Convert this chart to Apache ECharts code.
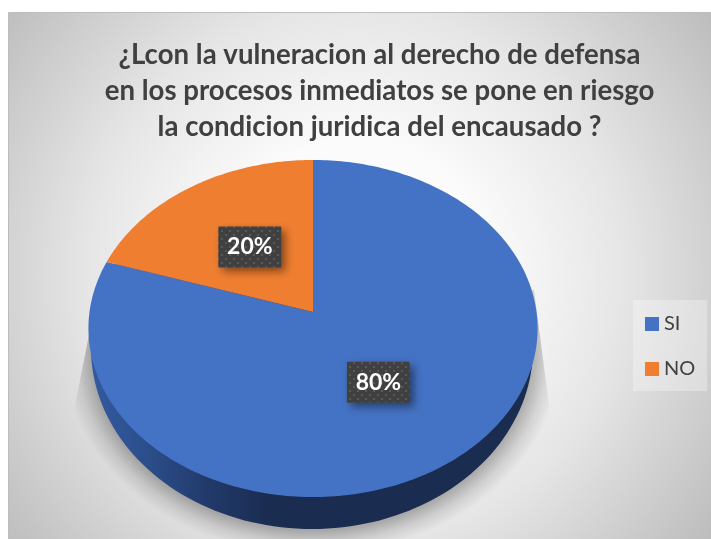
<!DOCTYPE html>
<html>
<head>
<meta charset="utf-8">
<style>
  html, body { margin: 0; padding: 0; background: #fff; }
  #chart { width: 711px; height: 539px; }
</style>
<script src="https://cdn.jsdelivr.net/npm/echarts@6/dist/echarts.min.js"></script>
</head>
<body>
<div id="chart"></div>
<script>
const titleLines = [
    '¿Lcon la vulneracion al derecho de defensa',
    'en los procesos inmediatos se pone en riesgo',
    'la condicion juridica del encausado ?'
]
const categories = ['SI', 'NO']
const values = [80, 20]
const colors = ['#4472c4', '#ef7e30']

const FONT = 'Lato'
const total = values.reduce((a, b) => a + b, 0)

// vista en perspectiva del disco: el centro queda mas arriba que el centro de la elipse
const pie = { cx: 313, cy: 312, b: 223.5, a: 166.9, k: 0.098 }
const project = (deg, rho) => {
    const t = deg * Math.PI / 180
    const u = Math.sin(t) * rho
    const v = -Math.cos(t) * rho
    const d = 1 - pie.k * v
    return [pie.cx + pie.b * u / d, pie.cy + pie.a * v / d]
}

const ellipsePoints = (cx, cy, rx, ry) => {
    let pts = []
    for (let i = 0; i < 360; i += 2) {
        let t = i * Math.PI / 180
        pts.push([cx + rx * Math.cos(t), cy + ry * Math.sin(t)])
    }
    return pts
}

// textura de puntos de las etiquetas
const dotPattern = () => {
    let c = document.createElement('canvas')
    c.width = 8
    c.height = 8
    let ctx = c.getContext('2d')
    ctx.fillStyle = '#404040'
    ctx.fillRect(0, 0, 8, 8)
    ctx.fillStyle = '#585858'
    ctx.fillRect(1, 2, 2, 2)
    ctx.fillRect(5, 6, 2, 2)
    return c
}
const pattern = dotPattern()

const makeSlice = (index) => (params, api) => {
    const before = values.slice(0, index).reduce((a, b) => a + b, 0)
    const start = before / total * 360
    const end = start + api.value(0) / total * 360
    let pts = [[pie.cx, pie.cy]]
    for (let d = start; d <= end; d += 1) pts.push(project(d, 1))
    const mid = project((start + end) / 2, 0.5)
    mid[0] -= index === 0 ? 3 : 0
    const children = []

    if (index === 0) {
        // sombra bajo el disco
        const sh = { cx: 312, cy: 350, r: 250, sy: 205 / 250 }
        const toLocal = p => [p[0] - sh.cx, (p[1] - sh.cy) / sh.sy]
        children.push({
            type: 'circle',
            x: sh.cx, y: sh.cy, scaleY: sh.sy,
            shape: { cx: 0, cy: 0, r: sh.r },
            style: {
                fill: {
                    type: 'radial', x: 0.5, y: 0.5, r: 0.5,
                    colorStops: [
                        { offset: 0, color: 'rgba(0,0,0,0.32)' },
                        { offset: 0.88, color: 'rgba(0,0,0,0.28)' },
                        { offset: 0.94, color: 'rgba(0,0,0,0.11)' },
                        { offset: 1, color: 'rgba(0,0,0,0)' }
                    ]
                }
            },
            clipPath: {
                type: 'polygon',
                shape: { points: [[92, 320], [73, 415], [40, 560], [590, 560], [551, 420], [534, 290]].map(toLocal) }
            }
        })
        // pared lateral
        children.push({
            type: 'polygon',
            shape: { points: ellipsePoints(312, 348, 221, 181) },
            style: {
                fill: {
                    type: 'linear', x: 0, y: 0, x2: 1, y2: 0,
                    colorStops: [
                        { offset: 0, color: '#33599f' },
                        { offset: 0.12, color: '#2c4f8c' },
                        { offset: 0.25, color: '#233c6e' },
                        { offset: 0.4, color: '#1a2c50' },
                        { offset: 1, color: '#1a2c50' }
                    ]
                }
            }
        })
    }

    children.push({
        type: 'polygon',
        shape: { points: pts },
        style: { fill: colors[index] }
    })
    children.push({
        type: 'rect',
        shape: { x: mid[0] - 31.5, y: mid[1] - 20.5, width: 63, height: 41 },
        style: {
            fill: { image: pattern, repeat: 'repeat' },
            shadowBlur: 8,
            shadowOffsetX: 4,
            shadowOffsetY: 4,
            shadowColor: 'rgba(0,0,0,0.45)'
        }
    })
    children.push({
        type: 'text',
        x: mid[0],
        y: mid[1],
        style: {
            text: Math.round(api.value(0) / total * 100) + '%',
            fill: '#fff',
            font: 'bold 23px ' + FONT,
            align: 'center',
            verticalAlign: 'middle'
        }
    })
    return { type: 'group', children: children }
}

let myChart = echarts.init(document.getElementById('chart'), null, { renderer: 'canvas' })

let option = {
    animation: false,
    graphic: [{
        type: 'rect',
        z: -10,
        silent: true,
        shape: { x: 8.5, y: 12.5, width: 720, height: 540 },
        style: {
            stroke: '#bdbdbd',
            lineWidth: 1,
            fill: {
                type: 'radial', global: true, x: 355, y: 275, r: 445,
                colorStops: [
                    { offset: 0, color: '#ffffff' },
                    { offset: 0.3, color: '#fbfbfb' },
                    { offset: 0.6, color: '#e6e6e6' },
                    { offset: 1, color: '#bcbcbc' }
                ]
            }
        }
    }],
    title: {
        text: titleLines.join('\n'),
        left: 374.5,
        top: 32,
        textAlign: 'center',
        textStyle: {
            fontFamily: FONT,
            fontWeight: 'bold',
            fontSize: 27.6,
            lineHeight: 36,
            color: '#404040'
        }
    },
    legend: {
        data: categories,
        orient: 'vertical',
        left: 633,
        top: 300,
        icon: 'rect',
        itemWidth: 14,
        itemHeight: 14,
        itemGap: 25,
        padding: [14, 12, 12, 12],
        backgroundColor: 'rgba(255,255,255,0.3)',
        selectedMode: false,
        textStyle: { fontFamily: FONT, fontSize: 20, color: '#404040' }
    },
    series: categories.map((name, i) => ({
        type: 'custom',
        name: name,
        coordinateSystem: 'none',
        silent: true,
        itemStyle: { color: colors[i] },
        data: [[values[i]]],
        renderItem: makeSlice(i)
    }))
}

myChart.setOption(option)
</script>
</body>
</html>
